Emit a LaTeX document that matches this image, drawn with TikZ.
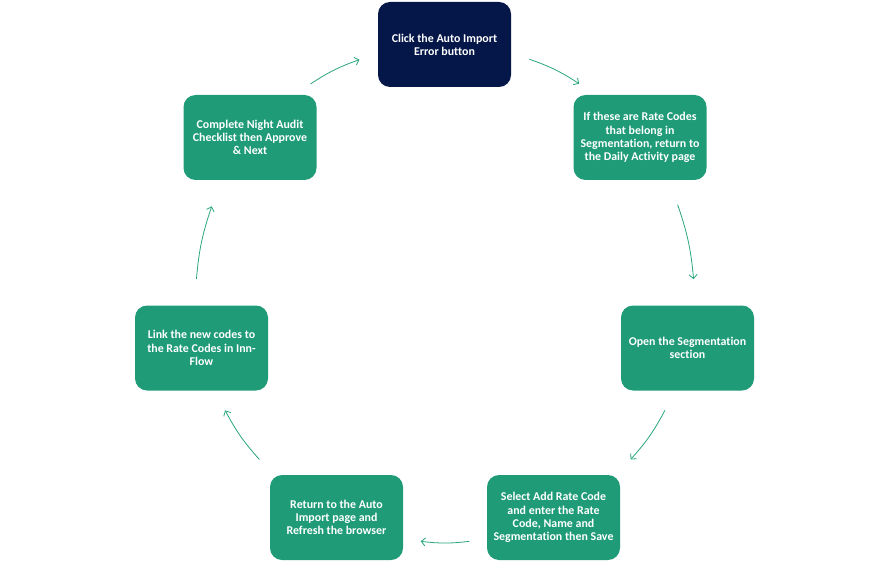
\documentclass[tikz,border=0pt]{standalone}
\usepackage{fontspec}
\setmainfont{Carlito}[Ligatures={NoCommon}]
\usetikzlibrary{arrows.meta}
\definecolor{stepgreen}{RGB}{31,155,120}
\definecolor{stepnavy}{RGB}{5,22,72}
\definecolor{arrowgreen}{RGB}{40,165,125}

\begin{document}
\begin{tikzpicture}[
x=1pt,y=1pt,
block/.style={
fill=stepgreen,
rectangle,
rounded corners=12pt,
minimum width=133pt,
minimum height=85pt,
align=center,
text=white,
font=\fontsize{11.9}{13.2}\selectfont\bfseries},
startblock/.style={
block,
fill=stepnavy},
flow/.style={
draw=arrowgreen,
line width=0.8pt,
-{Straight Barb[length=4pt,width=8pt]},
bend left=7}
]
\useasboundingbox (0,0) rectangle (890,563);

\draw (444.5,518.5)node[startblock] (click) {Click the Auto Import\\Error button};
\draw (640,425.5)node[block] (ratecodes) {If these are Rate Codes\\that belong in\\Segmentation, return to\\the Daily Activity page};
\draw (687.5,215)node[block] (openseg) {Open the Segmentation\\section};
\draw (553.5,45.5)node[block] (addcode) {Select Add Rate Code\\and enter the Rate\\Code, Name and\\Segmentation then Save};
\draw (336.5,45.5)node[block] (refresh) {Return to the Auto\\Import page and\\Refresh the browser};
\draw (201.5,215)node[block] (link) {Link the new codes to\\the Rate Codes in Inn-\\Flow};
\draw (250,425.5)node[block] (audit) {Complete Night Audit\\Checklist then Approve\\\& Next};

% arrow ends sit on one circle round the middle
\coordinate (c) at (445,269.5);
\path (c) ++(70.2:249) coordinate (s1) (c) ++(57.4:249) coordinate (e1);
\path (c) ++(20.9:249) coordinate (s2) (c) ++(3.3:249) coordinate (e2);
\path (c) ++(-28:249) coordinate (s3) (c) ++(-41.8:249) coordinate (e3);
\path (c) ++(-84.4:249) coordinate (s4) (c) ++(-95.6:249) coordinate (e4);
\path (c) ++(-138.2:249) coordinate (s5) (c) ++(-152:249) coordinate (e5);
\path (c) ++(176.7:249) coordinate (s6) (c) ++(159.5:249) coordinate (e6);
\path (c) ++(122.7:249) coordinate (s7) (c) ++(110.1:249) coordinate (e7);

\draw[flow] (s1) to (e1);
\draw[flow] (s2) to (e2);
\draw[flow] (s3) to (e3);
\draw[flow] (s4) to (e4);
\draw[flow] (s5) to (e5);
\draw[flow] (s6) to (e6);
\draw[flow] (s7) to (e7);

\end{tikzpicture}
\end{document}
